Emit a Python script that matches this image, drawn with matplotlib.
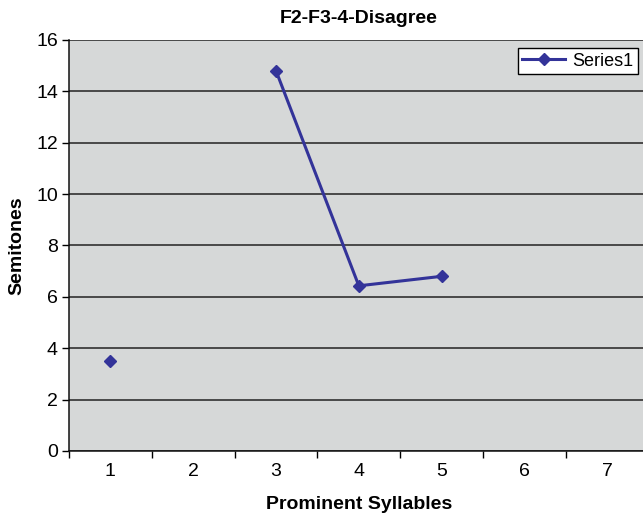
import numpy as np
import matplotlib.pyplot as plt
from matplotlib.ticker import FixedLocator

plt.rcParams['font.family'] = ['Liberation Sans', 'DejaVu Sans']

# prominent syllable positions and their pitch values (no value at 2, 6, 7)
syllables = [1, 2, 3, 4, 5, 6, 7]
semitones = [3.52, np.nan, 14.8, 6.43, 6.8, np.nan, np.nan]
y_ticks = [0, 2, 4, 6, 8, 10, 12, 14, 16]

fig = plt.figure(figsize=(6.43, 5.16), dpi=100)
ax = fig.add_axes([0.1073, 0.126, 0.9015, 0.7965])
ax.set_facecolor('#d6d8d8')

ax.plot(syllables, semitones, color='#333399', linewidth=2.2,
        marker='D', markersize=6.5, label='Series1', zorder=3)

ax.set_xlim(0.5, 7.5)
ax.set_ylim(0, 16)
ax.set_yticks(y_ticks)
ax.yaxis.grid(True, color='#222222', linewidth=1.1)
ax.set_axisbelow(True)

# category labels at centres, tick marks on the boundaries
ax.set_xticks(syllables)
ax.xaxis.set_minor_locator(FixedLocator(np.arange(0.5, 8.0, 1.0)))
ax.tick_params(axis='x', which='major', length=0, labelsize=14, pad=9)
ax.tick_params(axis='x', which='minor', length=5, width=1, direction='out')
ax.tick_params(axis='y', length=5, width=1, labelsize=14, pad=3)

for side in ['top', 'right']:
    ax.spines[side].set_visible(False)
for side in ['left', 'bottom']:
    ax.spines[side].set_color('#111111')
    ax.spines[side].set_linewidth(1.1)

ax.set_title('F2-F3-4-Disagree', fontsize=14, fontweight='bold', pad=12)
ax.set_xlabel('Prominent Syllables', fontsize=14, fontweight='bold', labelpad=11)
ax.set_ylabel('Semitones', fontsize=14, fontweight='bold', labelpad=8)

leg = ax.legend(loc='upper right', bbox_to_anchor=(0.982, 0.98), fontsize=13,
                frameon=True, fancybox=False, framealpha=1, borderpad=0.25,
                handlelength=2.4, handletextpad=0.4, borderaxespad=0)
leg.get_frame().set_edgecolor('black')
leg.get_frame().set_linewidth(1)

fig.savefig('out.png', dpi=100)
